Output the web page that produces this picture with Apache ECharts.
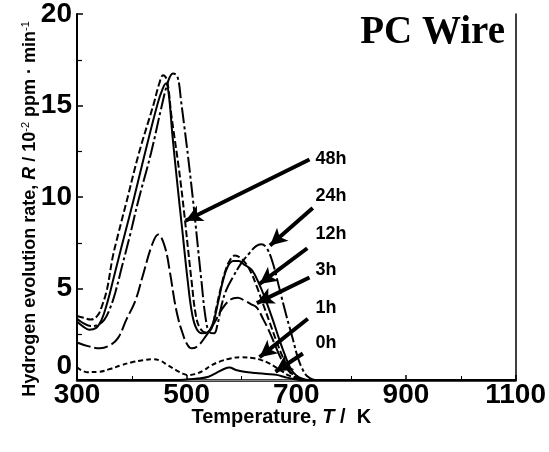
<!DOCTYPE html>
<html>
<head>
<meta charset="utf-8">
<script src="https://cdn.jsdelivr.net/npm/echarts@6/dist/echarts.min.js"></script>
<style>
html,body{margin:0;padding:0;background:#fff;}
#chart{width:549px;height:452px;}
</style>
</head>
<body>
<div id="chart"></div>
<script>
// ---- data (Temperature K, Rate 10^-2 ppm/min) ----
const T_0h = [300, 480, 500, 520, 540, 555, 568, 578, 590, 605, 625, 645, 664, 680, 695, 710, 750, 1100];
const R_0h = [0, 0, 0.03, 0.08, 0.18, 0.4, 0.6, 0.68, 0.55, 0.45, 0.38, 0.33, 0.28, 0.15, 0.05, 0, 0, 0];

const T_1h = [300, 318, 340, 360, 380, 400, 420, 438, 452, 466, 480, 493, 503, 515, 530, 545, 560, 580, 600, 620, 635, 648, 660, 673, 686, 700, 712, 750, 1100];
const R_1h = [0.7, 0.43, 0.45, 0.6, 0.8, 0.97, 1.08, 1.14, 1.05, 0.8, 0.55, 0.35, 0.27, 0.32, 0.5, 0.8, 1.0, 1.18, 1.25, 1.2, 1.1, 0.95, 0.75, 0.5, 0.25, 0.08, 0, 0, 0];

const T_3h = [300, 320, 342, 360, 375, 390, 406, 420, 437, 448, 460, 470, 478, 485, 491, 500, 509, 520, 535, 550, 565, 580, 593, 605, 617, 628, 640, 650, 660, 670, 680, 690, 700, 710, 750, 1100];
const R_3h = [2.05, 1.85, 1.73, 1.9, 2.3, 3.3, 4.3, 5.7, 7.4, 7.95, 7.3, 5.8, 4.3, 3.3, 2.7, 2.0, 1.73, 1.85, 2.4, 3.1, 3.9, 4.4, 4.5, 4.35, 4.15, 3.95, 3.3, 2.7, 2.0, 1.3, 0.75, 0.35, 0.1, 0, 0, 0];

const T_12h = [300, 312, 322, 335, 345, 355, 365, 375, 387, 402, 424, 447, 456, 462, 467, 474, 482, 492, 502, 510, 518, 528, 538, 548, 557, 566, 575, 585, 595, 605, 619, 633, 645, 657, 668, 680, 690, 700, 710, 720, 750, 1100];
const R_12h = [3.2, 2.9, 2.75, 2.85, 3.3, 4.2, 5.35, 6.55, 7.95, 9.7, 12.4, 15.1, 15.9, 16.2, 15.7, 13.4, 11.0, 8.2, 5.4, 3.6, 2.8, 2.55, 2.6, 3.1, 4.2, 5.4, 6.2, 6.5, 6.5, 6.3, 6.0, 5.2, 4.3, 3.3, 2.3, 1.3, 0.6, 0.25, 0.08, 0, 0, 0];

const T_24h = [300, 312, 325, 337, 350, 360, 370, 382, 397, 411, 435, 454, 466, 475, 483, 490, 508, 527, 535, 542, 550, 556, 563, 572, 584, 600, 615, 626, 636, 645, 656, 670, 682, 694, 703, 712, 720, 730, 740, 760, 1100];
const R_24h = [3.35, 3.1, 2.95, 3.0, 3.3, 3.9, 4.8, 6.2, 7.95, 9.7, 12.4, 14.9, 16.3, 16.75, 16.6, 15.2, 10.8, 5.4, 3.3, 2.6, 2.55, 3.0, 4.0, 4.9, 5.6, 6.4, 6.95, 7.3, 7.42, 7.25, 6.5, 4.9, 3.5, 2.2, 1.2, 0.55, 0.2, 0.03, 0, 0, 0];

const T_48h = [300, 312, 325, 337, 345, 355, 365, 375, 390, 413, 440, 450, 457, 464, 472, 489, 509, 517, 525, 535, 545, 553, 562, 571, 580, 588, 597, 607, 617, 628, 640, 652, 664, 676, 688, 700, 712, 750, 1100];
const R_48h = [3.5, 3.4, 3.3, 3.5, 4.0, 5.0, 6.7, 7.95, 9.7, 12.4, 15.1, 16.2, 16.65, 16.4, 14.5, 10.8, 5.4, 3.5, 2.8, 2.6, 2.8, 3.8, 5.0, 6.0, 6.6, 6.8, 6.7, 6.4, 5.9, 5.1, 4.1, 3.1, 2.1, 1.2, 0.5, 0.15, 0, 0, 0];

// annotation labels and arrows (data coordinates)
const labelNames = ['48h', '24h', '12h', '3h', '1h', '0h'];
const labelT = [735, 735, 735, 735, 735, 735];
const labelR = [12.05, 10.05, 8.0, 6.0, 3.95, 2.0];
const arrowFromT = [724, 730, 720, 724, 721, 712];
const arrowFromR = [12.05, 9.4, 7.2, 5.6, 3.35, 1.45];
const arrowToT = [498, 652, 633, 628, 633, 662];
const arrowToR = [8.7, 7.35, 5.25, 4.2, 1.25, 0.45];

const xTicks = [300, 500, 700, 900, 1100];
const yTicks = [0, 5, 10, 15, 20];

function zip(t, r) { return t.map((v, i) => [v, r[i]]); }

const curves = [
  { name: '0h', t: T_0h, r: R_0h, dash: 'solid' },
  { name: '1h', t: T_1h, r: R_1h, dash: [5, 3] },
  { name: '3h', t: T_3h, r: R_3h, dash: [14, 4] },
  { name: '12h', t: T_12h, r: R_12h, dash: 'solid' },
  { name: '24h', t: T_24h, r: R_24h, dash: [16, 3, 3, 3] },
  { name: '48h', t: T_48h, r: R_48h, dash: [7, 3] }
];

const series = curves.map(c => ({
  name: c.name,
  type: 'line',
  data: zip(c.t, c.r),
  showSymbol: false,
  smooth: 0.4,
  lineStyle: { color: '#000', width: 2, type: c.dash },
  silent: true,
  animation: false
}));

series.push({
  name: 'labels',
  type: 'scatter',
  data: labelNames.map((n, i) => ({ name: n, value: [labelT[i], labelR[i]] })),
  symbolSize: 0,
  itemStyle: { opacity: 1, color: '#000' },
  silent: true,
  animation: false,
  label: {
    show: true, position: 'right', distance: 0, formatter: '{b}',
    color: '#000', opacity: 1, fontSize: 18, fontWeight: 'bold', fontFamily: 'Liberation Sans'
  },
  markLine: {
    silent: true,
    animation: false,
    symbol: ['none', 'arrow'],
    symbolSize: [13, 17],
    label: { show: false },
    lineStyle: { color: '#000', width: 4, type: 'solid', opacity: 1 },
    emphasis: { disabled: true },
    data: labelNames.map((n, i) => [
      { coord: [arrowFromT[i], arrowFromR[i]] },
      { coord: [arrowToT[i], arrowToR[i]] }
    ])
  }
});

const chart = echarts.init(document.getElementById('chart'), null, { renderer: 'canvas' });
chart.setOption({
  backgroundColor: '#fff',
  animation: false,
  title: {
    text: 'PC Wire',
    right: 44, top: 13, padding: 0,
    textStyle: { fontFamily: 'Liberation Serif', fontWeight: 'bold', fontSize: 39, color: '#000' }
  },
  grid: { left: 77, right: 33, top: 10, bottom: 72, containLabel: false },
  xAxis: [{
    type: 'value', min: 300, max: 1100, interval: 200,
    name: '{a|Temperature, }{i|T}{a| /  K}',
    nameLocation: 'middle', nameGap: 27, nameMoveOverlap: false,
    nameTextStyle: {
      padding: [0, 30, 0, 0],
      rich: {
        a: { fontSize: 20, fontWeight: 'bold', fontFamily: 'Liberation Sans', color: '#000' },
        i: { fontSize: 20, fontWeight: 'bold', fontStyle: 'italic', fontFamily: 'Liberation Sans', color: '#000' }
      }
    },
    axisLine: { show: true, onZero: false, lineStyle: { color: '#000', width: 2.5 } },
    axisTick: { show: true, inside: true, length: 5, lineStyle: { color: '#000', width: 1.5 } },
    minorTick: { show: true, splitNumber: 2, length: 4, lineStyle: { color: '#000', width: 1 } },
    splitLine: { show: false },
    axisLabel: {
      margin: 1, color: '#000', fontSize: 28, fontWeight: 'bold', fontFamily: 'Liberation Sans',
      customValues: xTicks,
      formatter: v => String(v)
    }
  }, {
    type: 'value', min: 300, max: 1100, position: 'top',
    axisLine: { show: true, lineStyle: { color: '#8a8a8a', width: 1 } },
    axisTick: { show: false }, axisLabel: { show: false }, splitLine: { show: false }
  }],
  yAxis: [{
    type: 'value', min: 0, max: 20, interval: 5,
    name: '{a|Hydrogen evolution rate, }{i|R}{a| / 10}{s|-2}{a| ppm · min}{s|-1}',
    nameLocation: 'middle', nameGap: 37, nameMoveOverlap: false,
    nameTextStyle: {
      padding: [0, 24, 0, 0],
      rich: {
        a: { fontSize: 18, fontWeight: 'bold', fontFamily: 'Liberation Sans', color: '#000', lineHeight: 20 },
        i: { fontSize: 18, fontWeight: 'bold', fontStyle: 'italic', fontFamily: 'Liberation Sans', color: '#000', lineHeight: 20 },
        s: { fontSize: 11, fontFamily: 'Liberation Sans', color: '#000', verticalAlign: 'top', lineHeight: 20 }
      }
    },
    axisLine: { show: true, onZero: false, lineStyle: { color: '#000', width: 2 } },
    axisTick: { show: true, inside: true, length: 6, lineStyle: { color: '#000', width: 1.5 } },
    minorTick: { show: true, splitNumber: 2, length: 5, lineStyle: { color: '#000', width: 1.2 } },
    splitLine: { show: false },
    axisLabel: {
      margin: 5, color: '#000', fontSize: 28, fontWeight: 'bold', fontFamily: 'Liberation Sans',
      verticalAlignMinLabel: 'bottom',
      customValues: yTicks
    }
  }, {
    type: 'value', min: 0, max: 20, position: 'right',
    axisLine: { show: true, lineStyle: { color: '#000', width: 1.5 } },
    axisTick: { show: false }, axisLabel: { show: false }, splitLine: { show: false }
  }],
  series: series
});
</script>
</body>
</html>
